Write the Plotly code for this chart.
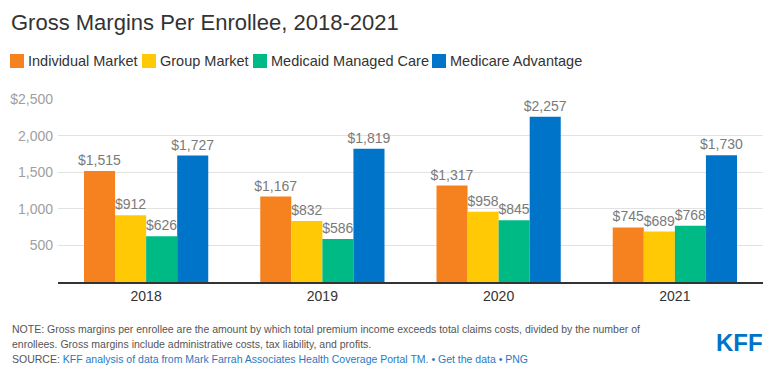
import plotly.graph_objects as go

years = ["2018", "2019", "2020", "2021"]
series_names = ["Individual Market", "Group Market", "Medicaid Managed Care", "Medicare Advantage"]
individual = [1515, 1167, 1317, 745]
group = [912, 832, 958, 689]
medicaid = [626, 586, 845, 768]
medicare = [1727, 1819, 2257, 1730]
y_ticks = [500, 1000, 1500, 2000, 2500]
y_tick_labels = ["500", "1,000", "1,500", "2,000", "$2,500"]

colors = ["#F5821F", "#FFC905", "#00BA85", "#0074C9"]
values = [individual, group, medicaid, medicare]

W, H = 772, 371
L, R, T, B = 58, 9, 99, 89
pw = W - L - R
ph = H - T - B

def px2x(px):
    return (px - L) / pw

def py2y(py):
    return (H - B - py) / ph

fig = go.Figure()
for name, vals, col in zip(series_names, values, colors):
    fig.add_trace(go.Bar(
        x=years, y=vals, name=name, marker=dict(color=col, line=dict(width=0)),
        texttemplate="$%{y:,}", textposition="outside", cliponaxis=False,
        constraintext="none",
        textfont=dict(family="Arial, Liberation Sans", size=14, color="#7a7a7a"),
        showlegend=False,
    ))

# Manual legend
legend_x = [10, 142, 253, 432]
shapes = []
annotations = []
for name, col, lx in zip(series_names, colors, legend_x):
    shapes.append(dict(type="rect", xref="paper", yref="paper",
                       x0=px2x(lx), x1=px2x(lx + 14), y0=py2y(68), y1=py2y(54),
                       fillcolor=col, line=dict(width=0)))
    annotations.append(dict(text=name, xref="paper", yref="paper",
                            x=px2x(lx + 16), y=py2y(61), xanchor="left", yanchor="middle",
                            showarrow=False,
                            font=dict(family="Arial, Liberation Sans", size=14.5, color="#333")))

# Title
annotations.append(dict(text="Gross Margins Per Enrollee, 2018-2021", xref="paper", yref="paper",
                        x=px2x(9), y=py2y(22), xanchor="left", yanchor="middle", showarrow=False,
                        font=dict(family="Arial, Liberation Sans", size=22, color="#333")))

foot_font = dict(family="Arial, Liberation Sans", size=10.5, color="#555")
annotations.append(dict(text="NOTE: Gross margins per enrollee are the amount by which total premium income exceeds total claims costs, divided by the number of",
                        xref="paper", yref="paper", x=px2x(10), y=py2y(329), xanchor="left", yanchor="middle",
                        showarrow=False, font=foot_font))
annotations.append(dict(text="enrollees. Gross margins include administrative costs, tax liability, and profits.",
                        xref="paper", yref="paper", x=px2x(10), y=py2y(344), xanchor="left", yanchor="middle",
                        showarrow=False, font=foot_font))
annotations.append(dict(text="SOURCE: <span style='color:#1f7ac4'>KFF analysis of data from Mark Farrah Associates Health Coverage Portal TM. • Get the data • PNG</span>",
                        xref="paper", yref="paper", x=px2x(10), y=py2y(359), xanchor="left", yanchor="middle",
                        showarrow=False, font=foot_font))
annotations.append(dict(text="<b>KFF</b>", xref="paper", yref="paper", x=px2x(739), y=py2y(342),
                        xanchor="center", yanchor="middle", showarrow=False,
                        font=dict(family="Arial, Liberation Sans", size=24, color="#0074C9")))

fig.update_layout(
    width=W, height=H, margin=dict(l=L, r=R, t=T, b=B),
    paper_bgcolor="white", plot_bgcolor="white",
    barmode="group", bargap=0.295, bargroupgap=0,
    shapes=shapes, annotations=annotations,
    xaxis=dict(showline=True, linecolor="#333", linewidth=1.5, ticks="",
               tickfont=dict(family="Arial, Liberation Sans", size=14, color="#333")),
    yaxis=dict(range=[0, 2500], tickvals=y_ticks, ticktext=y_tick_labels,
               showgrid=True, gridcolor="#e2e2e2", gridwidth=1, zeroline=False,
               tickfont=dict(family="Arial, Liberation Sans", size=14, color="#a0a0a0"),
               ticks="", ticklen=0, ticklabelstandoff=4),
    font=dict(family="Arial, Liberation Sans"),
)

fig.write_html("out.html", config={"displayModeBar": False},
               post_script="document.body.style.margin='0';document.body.style.overflow='hidden';")
